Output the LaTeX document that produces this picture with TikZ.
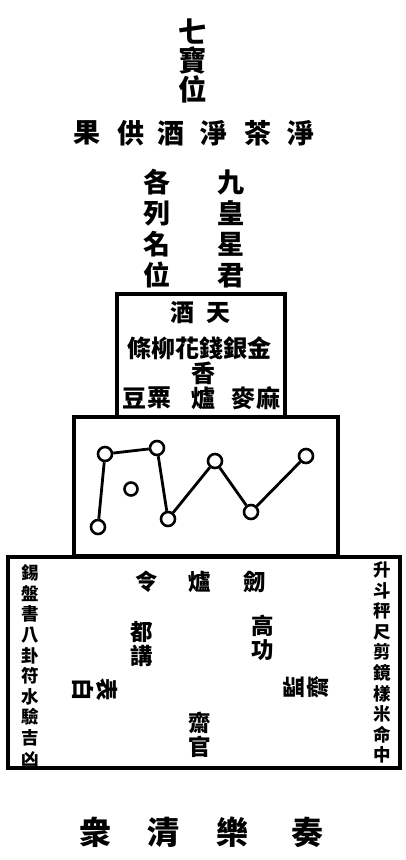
\documentclass[tikz,border=0pt]{standalone}
\usepackage{fontspec}
\newfontfamily\cjk{Noto Sans CJK TC}
\tikzset{
  frame/.style={draw=black,line width=3.2pt,line join=miter},
  star/.style={circle,draw=black,line width=2.6pt,minimum size=14pt,inner sep=0pt,fill=white},
  link/.style={draw=black,line width=2.8pt},
  txt/.style={inner sep=0pt,align=center,text=black},
  big/.style={txt,font=\cjk\bfseries\fontsize{28.5}{29}\selectfont},
  mid/.style={txt,font=\cjk\bfseries\fontsize{27}{31}\selectfont},
  boxa/.style={txt,font=\cjk\bfseries\fontsize{24}{25}\selectfont},
  boxc/.style={txt,font=\cjk\bfseries\fontsize{22.5}{24.5}\selectfont},
  side/.style={txt,font=\cjk\bfseries\fontsize{17.5}{20.6}\selectfont},
  foot/.style={txt,font=\cjk\bfseries\fontsize{32}{32}\selectfont}
}
\begin{document}
\begin{tikzpicture}[x=1pt,y=-1pt]
\useasboundingbox (0,0) rectangle (405,860);
% frames
\draw[frame] (117,417) -- (117,294) -- (285,294) -- (285,417);
\draw[frame] (74,417) rectangle (338,556);
\draw[frame] (8,557) rectangle (400,768);
% top texts
\node[big] (qibao) at (193,61) {七\\寶\\位};
\node[mid] (g1) at (87,133) {果};
\node[mid] (g2) at (131,133) {供};
\node[mid] (g3) at (171,133) {酒};
\node[mid] (g4) at (214,133) {淨};
\node[mid] (g5) at (258,133) {茶};
\node[mid] (g6) at (301,133) {淨};
\node[mid] (gelie) at (157,229) {各\\列\\名\\位};
\node[mid] (jiuhuang) at (231,229) {九\\皇\\星\\君};
% box 1
\node[boxa] (jiu) at (182,313) {酒};
\node[boxa] (tian) at (218,313) {天};
\node[boxa] (row2) at (199,348) {條柳花錢銀金};
\node[boxa] (xiang) at (203,373) {香};
\node[boxa] (dou) at (134,398) {豆};
\node[boxa] (su) at (159,398) {粟};
\node[boxa] (lu1) at (203,398) {爐};
\node[boxa] (mai) at (243,398) {麥};
\node[boxa] (ma) at (268,398) {麻};
% box 2 stars
\node[star] (sA) at (105,454) {};
\node[star] (sB) at (157,448) {};
\node[star,minimum size=13pt] (sC) at (131,489) {};
\node[star] (sD) at (98,527) {};
\node[star] (sE) at (168,519) {};
\node[star] (sF) at (215,461) {};
\node[star] (sG) at (251,512) {};
\node[star] (sH) at (306,456) {};
\draw[link] (sD) -- (sA);
\draw[link] (sA) -- (sB);
\draw[link] (sB) -- (sE);
\draw[link] (sE) -- (sF);
\draw[link] (sF) -- (sG);
\draw[link] (sG) -- (sH);
% box 3
\node[boxc] (ling) at (147,582) {令};
\node[boxc] (lu2) at (200,582) {爐};
\node[boxc] (jian) at (255,582) {劒};
\node[boxc] (dujiang) at (142,644) {都\\講};
\node[boxc] (gaogong) at (263,638) {高\\功};
\node[boxc,rotate=-90] (biaobai) at (95,690) {表\\白};
\node[boxc,rotate=90] (jianzhai) at (306,687) {監\\齋};
\node[boxc] (zhaiguan) at (200,735) {齋\\官};
\node[side] (left) at (30,665.5) {錫\\盤\\書\\八\\卦\\符\\水\\驗\\吉\\凶};
\node[side] (right) at (382,662.5) {升\\斗\\秤\\尺\\剪\\鏡\\樣\\米\\命\\中};
% bottom
\node[foot] (f1) at (95,832) {衆};
\node[foot] (f2) at (163,832) {清};
\node[foot] (f3) at (232,832) {樂};
\node[foot] (f4) at (307,832) {奏};
\end{tikzpicture}
\end{document}
